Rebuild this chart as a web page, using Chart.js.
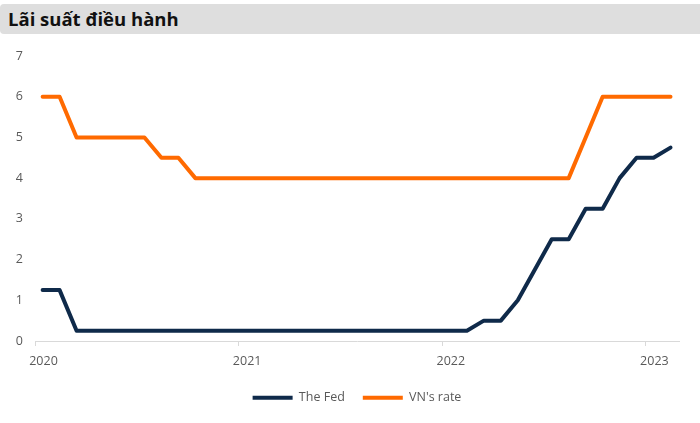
<!DOCTYPE html>
<html>
<head>
<meta charset="utf-8">
<script src="https://cdn.jsdelivr.net/npm/chart.js@4/dist/chart.umd.min.js"></script>
<style>
  html, body { margin: 0; padding: 0; background: #fff; }
  #wrap { position: relative; width: 700px; height: 423px; }
  #title {
    position: absolute; left: 0; top: 4px; width: 700px; height: 30px;
    background: #dedede; border-radius: 4px 0 0 4px;
    font-family: 'Open Sans', sans-serif; font-weight: 700; font-size: 18.5px;
    line-height: 30px; color: #111; padding-left: 8px; box-sizing: border-box;
  }
  canvas { position: absolute; left: 0; top: 0; }
</style>
</head>
<body>
<div id="wrap">
  <canvas id="c" width="700" height="423"></canvas>
  <div id="title">Lãi suất điều hành</div>
</div>
<script>
const months = [
  '2020-01','2020-02','2020-03','2020-04','2020-05','2020-06','2020-07','2020-08','2020-09','2020-10','2020-11','2020-12',
  '2021-01','2021-02','2021-03','2021-04','2021-05','2021-06','2021-07','2021-08','2021-09','2021-10','2021-11','2021-12',
  '2022-01','2022-02','2022-03','2022-04','2022-05','2022-06','2022-07','2022-08','2022-09','2022-10','2022-11','2022-12',
  '2023-01','2023-02'
];
const fedRate = [
  1.25,1.25,0.25,0.25,0.25,0.25,0.25,0.25,0.25,0.25,0.25,0.25,
  0.25,0.25,0.25,0.25,0.25,0.25,0.25,0.25,0.25,0.25,0.25,0.25,
  0.25,0.25,0.5,0.5,1.0,1.75,2.5,2.5,3.25,3.25,4.0,4.5,
  4.5,4.75
];
const vnRate = [
  6,6,5,5,5,5,5,4.5,4.5,4,4,4,
  4,4,4,4,4,4,4,4,4,4,4,4,
  4,4,4,4,4,4,4,4,5,6,6,6,
  6,6
];
const yearLabels = ['2020','2021','2022','2023'];
const seriesNames = ['The Fed', "VN's rate"];

const FONT = "'Open Sans', sans-serif";
const GRAY = '#595959';
const toPoints = arr => arr.map((v, i) => ({ x: i + 0.45, y: v }));

new Chart(document.getElementById('c'), {
  type: 'line',
  data: {
    datasets: [
      { label: seriesNames[0], data: toPoints(fedRate), borderColor: '#0f2a4a', backgroundColor: '#0f2a4a',
        borderWidth: 4, pointRadius: 0, borderCapStyle: 'round', borderJoinStyle: 'round', tension: 0 },
      { label: seriesNames[1], data: toPoints(vnRate), borderColor: '#ff6a00', backgroundColor: '#ff6a00',
        borderWidth: 4, pointRadius: 0, borderCapStyle: 'round', borderJoinStyle: 'round', tension: 0 }
    ]
  },
  options: {
    responsive: false,
    animation: false,
    devicePixelRatio: 1,
    layout: { padding: { top: 56, left: 0, right: 21, bottom: 9 } },
    plugins: {
      legend: {
        position: 'bottom',
        fullSize: false,
        labels: {
          usePointStyle: true, pointStyle: 'line', pointStyleWidth: 40,
          color: GRAY, font: { family: FONT, size: 12.5, lineHeight: 1.0 }, padding: 18, boxHeight: 12
        }
      },
      tooltip: { enabled: false }
    },
    scales: {
      x: {
        type: 'linear', min: 0, max: 37.95,
        afterBuildTicks: s => { s.ticks = [0, 12, 24, 36].map(v => ({ value: v })); },
        afterFit: s => { s.height = s.height - 3.5; },
        ticks: {
          callback: v => yearLabels[v / 12],
          color: GRAY, font: { family: FONT, size: 12.5 }, labelOffset: 8.5, padding: 8, maxRotation: 0
        },
        grid: { drawOnChartArea: false, drawTicks: true, tickLength: 5, color: '#d9d9d9' },
        border: { display: true, color: '#d9d9d9', width: 1 }
      },
      y: {
        min: 0, max: 7,
        afterFit: s => { s.width = 35; },
        ticks: { stepSize: 1, color: GRAY, font: { family: FONT, size: 12.5 }, padding: 12 },
        grid: { display: false, drawTicks: false },
        border: { display: false }
      }
    }
  }
});
</script>
</body>
</html>
